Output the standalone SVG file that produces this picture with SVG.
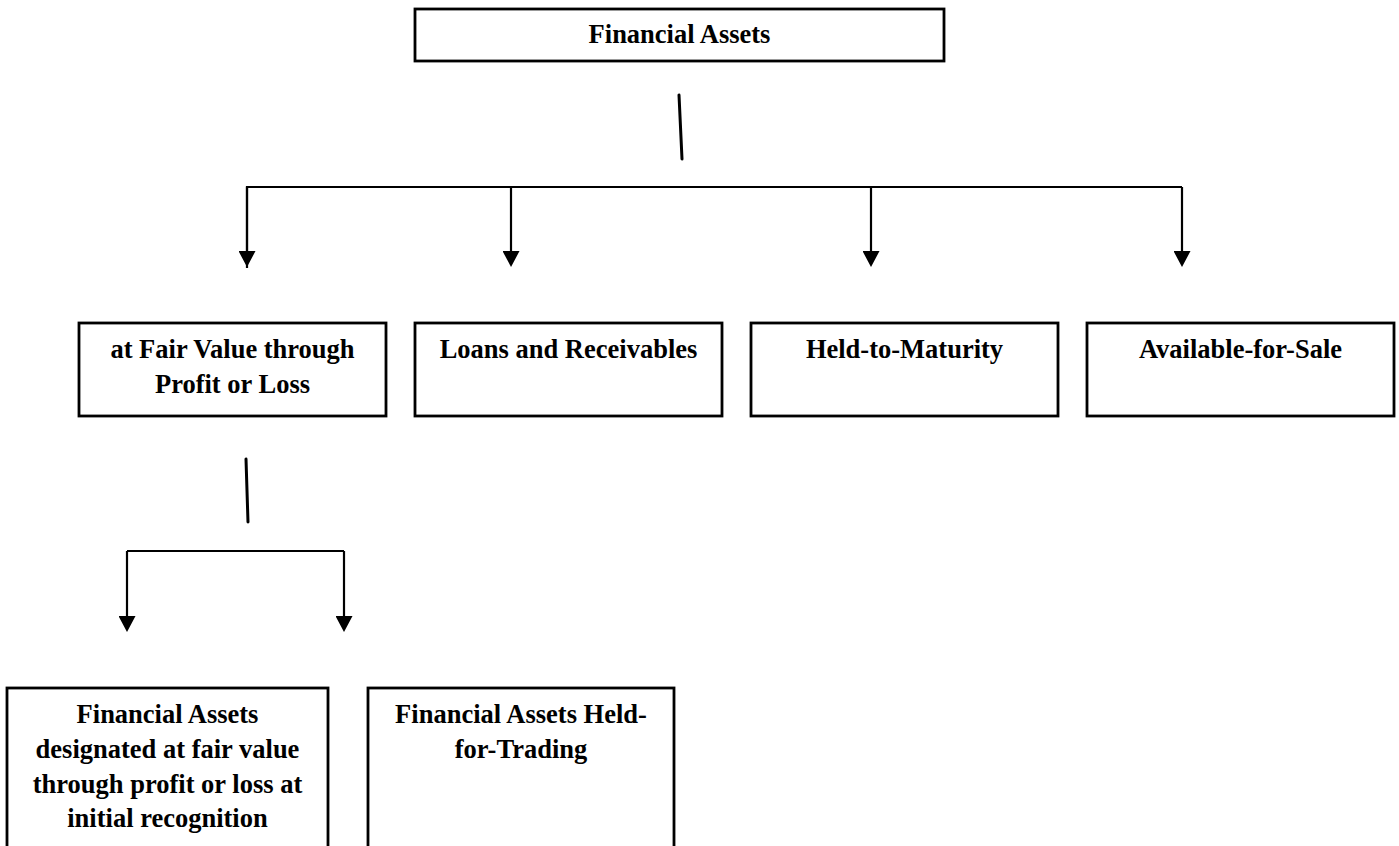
<svg xmlns="http://www.w3.org/2000/svg" width="1399" height="846" viewBox="0 0 1399 846">
<style>
.box{fill:#fff;stroke:#000;stroke-width:2.8}
.t{font-family:"Liberation Serif","Times New Roman",serif;font-weight:bold;font-size:26.5px;text-anchor:middle;fill:#000}
.c{fill:none;stroke:#000;stroke-width:2.2}
.v{fill:none;stroke:#000;stroke-width:3;stroke-linecap:round}
.a{fill:none;stroke:#000;stroke-width:2.2;marker-end:url(#arr)}
</style>
<defs>
<marker id="arr" viewBox="0 0 16 17" refX="4" refY="8.5" markerWidth="16" markerHeight="17" markerUnits="userSpaceOnUse" orient="auto">
<path d="M0,0 L16,8.5 L0,17 z" fill="#000"/>
</marker>
</defs>
<rect width="1399" height="846" fill="#fff"/>
<g id="connectors">
<line class="v" x1="679" y1="95" x2="682" y2="159"/>
<polyline class="c" points="247,268 247,187 1182,187"/>
<line class="a" x1="247" y1="187" x2="247" y2="255"/>
<line class="a" x1="511" y1="187" x2="511" y2="255"/>
<line class="a" x1="871" y1="187" x2="871" y2="255"/>
<line class="a" x1="1182" y1="187" x2="1182" y2="255"/>
<line class="v" x1="246" y1="459" x2="248" y2="522"/>
<line class="c" x1="127" y1="551" x2="344" y2="551"/>
<line class="a" x1="127" y1="551" x2="127" y2="620"/>
<line class="a" x1="344" y1="551" x2="344" y2="620"/>
</g>
<g id="financial-assets">
<rect class="box" x="415" y="9" width="529" height="52"/>
<text class="t" x="679.5" y="43">Financial Assets</text>
</g>
<g id="fvtpl">
<rect class="box" x="79" y="323" width="307" height="93"/>
<text class="t" x="232.5" y="358">at Fair Value through</text>
<text class="t" x="232.5" y="393">Profit or Loss</text>
</g>
<g id="loans">
<rect class="box" x="415" y="323" width="307" height="93"/>
<text class="t" x="568.5" y="358">Loans and Receivables</text>
</g>
<g id="htm">
<rect class="box" x="751" y="323" width="307" height="93"/>
<text class="t" x="904.5" y="358">Held-to-Maturity</text>
</g>
<g id="afs">
<rect class="box" x="1087" y="323" width="307" height="93"/>
<text class="t" x="1240.5" y="358">Available-for-Sale</text>
</g>
<g id="designated">
<rect class="box" x="7" y="688" width="321" height="180"/>
<text class="t" x="167.5" y="723">Financial Assets</text>
<text class="t" x="167.5" y="758">designated at fair value</text>
<text class="t" x="167.5" y="793">through profit or loss at</text>
<text class="t" x="167.5" y="827">initial recognition</text>
</g>
<g id="held-for-trading">
<rect class="box" x="368" y="688" width="306" height="180"/>
<text class="t" x="521" y="723">Financial Assets Held-</text>
<text class="t" x="521" y="758">for-Trading</text>
</g>
</svg>
